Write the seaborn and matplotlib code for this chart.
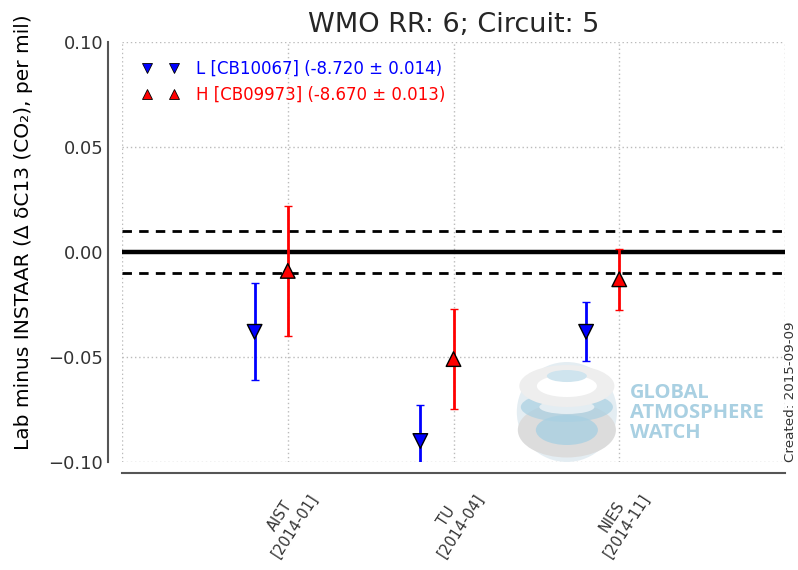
import numpy as np
import pandas as pd
import matplotlib
matplotlib.use("Agg")
import matplotlib.pyplot as plt
from matplotlib.lines import Line2D
from matplotlib.patches import Ellipse
import seaborn as sns

# Comparison labs (tick labels) and their differences from INSTAAR
labs = ["AIST\n[2014-01]", "TU\n[2014-04]", "NIES\n[2014-11]"]
low_diff = [-0.038, -0.090, -0.038]
low_err = [0.023, 0.017, 0.014]
high_diff = [-0.009, -0.051, -0.013]
high_err = [0.031, 0.024, 0.0145]
low_label = "L [CB10067] (-8.720 \u00b1 0.014)"
high_label = "H [CB09973] (-8.670 \u00b1 0.013)"
tolerance = 0.01

sns.set_style("white")
plt.rcParams["font.family"] = ["DejaVu Sans"]

pos = np.arange(1, len(labs) + 1)
df = pd.DataFrame({
    "pos": np.concatenate([pos - 0.2, pos]),
    "diff": low_diff + high_diff,
    "err": low_err + high_err,
    "tank": ["L"] * len(labs) + ["H"] * len(labs),
})

fig = plt.figure(figsize=(7.98, 5.70), dpi=100)
ax = fig.add_axes([0.1529, 0.1895, 0.8308, 0.7368])

colors = {"L": "#0000ff", "H": "#ff0000"}
markers = {"L": "v", "H": "^"}

# reference lines: zero and the compatibility goal
ax.axhline(0, color="black", lw=3.2, zorder=2)
ax.axhline(tolerance, color="black", lw=2, ls=(0, (3.4, 2.6)), zorder=2)
ax.axhline(-tolerance, color="black", lw=2, ls=(0, (3.4, 2.6)), zorder=2)

for tank, sub in df.groupby("tank"):
    ax.errorbar(sub["pos"], sub["diff"], yerr=sub["err"], fmt="none",
                ecolor=colors[tank], elinewidth=2, capsize=3, capthick=1,
                zorder=3)

sns.scatterplot(data=df, x="pos", y="diff", hue="tank", style="tank",
                palette=colors, markers=markers, s=110, edgecolor="black",
                linewidth=1, legend=False, zorder=4, ax=ax)

ax.set_xlim(0, 4)
ax.set_ylim(-0.10, 0.10)
ax.set_yticks([-0.10, -0.05, 0.0, 0.05, 0.10])
ax.set_yticklabels(["\u22120.10", "\u22120.05", "0.00", "0.05", "0.10"])
ax.set_xticks([0, 1, 2, 3, 4])
ax.set_xticklabels([""] + labs + [""])
ax.set_xlabel("")
ax.set_ylabel("Lab minus INSTAAR (\u0394 \u03b4C13 (CO\u2082), per mil)",
              fontsize=14.5, color="black")
ax.yaxis.set_label_coords(-0.134, 0.548)
ax.set_title("WMO RR: 6; Circuit: 5", fontsize=19.5, pad=7)

ax.grid(True, color="#bbbbbb", ls=(0, (1, 2)), lw=1)
ax.tick_params(axis="y", labelsize=13, direction="in", length=5,
               width=1, colors="#444444", labelcolor="#333333")
ax.tick_params(axis="x", direction="in", length=5, width=1,
               colors="#444444", labelcolor="#333333", pad=6,
               labelrotation=57, labelsize=10.5)
for lbl in ax.get_xticklabels():
    lbl.set_horizontalalignment("center")

for side in ["top", "right"]:
    ax.spines[side].set_visible(False)
ax.spines["left"].set_position(("outward", 10))
ax.spines["bottom"].set_position(("outward", 8))
for side in ["left", "bottom"]:
    ax.spines[side].set_color("#555555")
    ax.spines[side].set_linewidth(1.5)

handles = [
    Line2D([], [], ls="none", marker="v", color=colors["L"], mec="black",
           mew=0.6, ms=7),
    Line2D([], [], ls="none", marker="^", color=colors["H"], mec="black",
           mew=0.6, ms=7),
]
leg = ax.legend(handles, [low_label, high_label], loc="upper left",
                numpoints=2, frameon=False, fontsize=12,
                bbox_to_anchor=(0.008, 0.993), handlelength=2.2,
                handletextpad=1.0, labelspacing=0.45)
for txt, c in zip(leg.get_texts(), [colors["L"], colors["H"]]):
    txt.set_color(c)

# watch logo in the lower right
logo_c = "#a9d0e2"
logo_g = "#dcdcdc"
cx, cy, w, h = 0.671, 0.119, 0.151, 0.238
logo_parts = [
    (0.0, 0.0, 1.0, 1.0, "#e4edf2", 1.0),
    (0.0, -0.18, 0.98, 0.55, logo_g, 1.0),
    (0.0, -0.18, 0.62, 0.30, logo_c, 0.8),
    (0.0, 0.05, 0.92, 0.30, logo_c, 0.7),
    (0.0, 0.05, 0.55, 0.14, "#e4edf2", 1.0),
    (0.0, 0.26, 0.95, 0.42, "#eeeeee", 1.0),
    (0.0, 0.26, 0.60, 0.22, "white", 1.0),
    (0.0, 0.36, 0.40, 0.12, "#cfe4ee", 1.0),
]
for (dx, dy, fw, fh, fc, a) in logo_parts:
    ax.add_patch(Ellipse((cx + dx * w, cy + dy * h), fw * w, fh * h,
                         transform=ax.transAxes, facecolor=fc,
                         edgecolor="none", alpha=a, zorder=1))
ax.text(0.766, 0.117, "GLOBAL\nATMOSPHERE\nWATCH", transform=ax.transAxes,
        color=logo_c, fontsize=14.5, fontweight="bold", va="center",
        ha="left", linespacing=1.0, zorder=1,
        family=["Open Sans", "DejaVu Sans"])

fig.text(0.991, 0.1895, "Created: 2015-09-09", rotation=90, ha="center",
         va="bottom", fontsize=9.7, color="#333333")

fig.savefig("out.png", dpi=100)
